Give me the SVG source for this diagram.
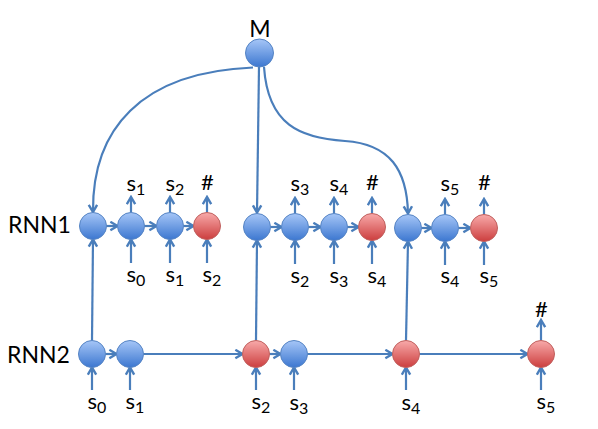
<svg xmlns="http://www.w3.org/2000/svg" width="598" height="429" viewBox="0 0 598 429">
<style>
.c{stroke:#4a7ebb;stroke-width:2.2;fill:none}
.a{marker-end:url(#ah)}
.b{fill:url(#gb);stroke:#5584c4;stroke-width:1}
.r{fill:url(#gr);stroke:#c0605e;stroke-width:1}
text{font-family:Lato,"Liberation Sans",sans-serif;fill:#000}
.t{font-size:23px}
.s{font-size:22px}
.sub{font-size:16px}
</style>
<defs>
<linearGradient id="gb" x1="0" y1="0" x2="0" y2="1">
<stop offset="0" stop-color="#a6c6f7"/>
<stop offset="1" stop-color="#3c77d0"/>
</linearGradient>
<linearGradient id="gr" x1="0" y1="0" x2="0" y2="1">
<stop offset="0" stop-color="#f8aaaa"/>
<stop offset="1" stop-color="#cc3e3e"/>
</linearGradient>
<marker id="ah" viewBox="0 0 10 10" refX="8.5" refY="5" markerWidth="11" markerHeight="11" markerUnits="userSpaceOnUse" orient="auto">
<path d="M2,1.2 L8.5,5 L2,8.8" fill="none" stroke="#4a7ebb" stroke-width="2.2"/>
</marker>
</defs>

<g id="connectors">
<path class="c a" d="M253,67.5 C140,72 92,130 93,212"/>
<path class="c a" d="M259,67 L257,212.5"/>
<path class="c a" d="M264,67 C268,125 300,138 345,141 C390,144 407,170 408,213.5"/>
<path class="c a" d="M106.5,226 L117.5,226"/>
<path class="c a" d="M144.5,226 L156.5,226"/>
<path class="c a" d="M183.5,226 L193.5,226"/>
<path class="c a" d="M270.5,227 L281.5,227"/>
<path class="c a" d="M308.5,227 L320.5,227"/>
<path class="c a" d="M347.5,227 L358.5,227"/>
<path class="c a" d="M421.5,228 L431.5,228"/>
<path class="c a" d="M458.5,228 L470.5,228"/>
<path class="c a" d="M92,340.5 L93,239.5"/>
<path class="c a" d="M256,340.5 L257,240.5"/>
<path class="c a" d="M406,340.5 L408,241.5"/>
<path class="c a" d="M131,263 L131,239.5"/>
<path class="c a" d="M170,263 L170,239.5"/>
<path class="c a" d="M207,263 L207,239.5"/>
<path class="c a" d="M295,264 L295,240.5"/>
<path class="c a" d="M334,264 L334,240.5"/>
<path class="c a" d="M372,264 L372,240.5"/>
<path class="c a" d="M445,265 L445,241.5"/>
<path class="c a" d="M484,265 L484,241.5"/>
<path class="c a" d="M131,212.5 L131,197"/>
<path class="c a" d="M170,212.5 L170,197"/>
<path class="c a" d="M207,212.5 L207,197"/>
<path class="c a" d="M295,213.5 L295,198"/>
<path class="c a" d="M334,213.5 L334,198"/>
<path class="c a" d="M372,213.5 L372,198"/>
<path class="c a" d="M445,214.5 L445,199"/>
<path class="c a" d="M484,214.5 L484,199"/>
<path class="c a" d="M105.5,354 L116.5,354"/>
<path class="c a" d="M143.5,354 L242.5,354"/>
<path class="c a" d="M269.5,354 L280.5,354"/>
<path class="c a" d="M307.5,354 L392.5,354"/>
<path class="c a" d="M419.5,354 L527.5,354"/>
<path class="c a" d="M92,390 L92,367.5"/>
<path class="c a" d="M130,390 L130,367.5"/>
<path class="c a" d="M256,390 L256,367.5"/>
<path class="c a" d="M294,390 L294,367.5"/>
<path class="c a" d="M406,390 L406,367.5"/>
<path class="c a" d="M541,390 L541,367.5"/>
<path class="c a" d="M541,340.5 L541,320"/>
</g>

<g id="M"><circle class="b" cx="259.5" cy="53" r="14"/><text class="t" x="260" y="37" text-anchor="middle">M</text></g>

<g id="labels">
<text class="t" x="8" y="233">RNN1</text>
<text class="t" x="7" y="363">RNN2</text>
</g>

<g id="r1n1"><circle class="b" cx="93" cy="226" r="13.5"/></g>
<g id="r1n2"><circle class="b" cx="131" cy="226" r="13.5"/>
<text class="s" x="126.5" y="191">s<tspan class="sub" dy="4">1</tspan></text>
<text class="s" x="126.5" y="282">s<tspan class="sub" dy="4">0</tspan></text></g>
<g id="r1n3"><circle class="b" cx="170" cy="226" r="13.5"/>
<text class="s" x="165.5" y="191">s<tspan class="sub" dy="4">2</tspan></text>
<text class="s" x="165.5" y="282">s<tspan class="sub" dy="4">1</tspan></text></g>
<g id="r1n4"><circle class="r" cx="207" cy="226" r="13.5"/>
<text class="s" x="207.5" y="190" text-anchor="middle">#</text>
<text class="s" x="202.5" y="282">s<tspan class="sub" dy="4">2</tspan></text></g>

<g id="r1n5"><circle class="b" cx="257" cy="227" r="13.5"/></g>
<g id="r1n6"><circle class="b" cx="295" cy="227" r="13.5"/>
<text class="s" x="290.5" y="191">s<tspan class="sub" dy="4">3</tspan></text>
<text class="s" x="290.5" y="283">s<tspan class="sub" dy="4">2</tspan></text></g>
<g id="r1n7"><circle class="b" cx="334" cy="227" r="13.5"/>
<text class="s" x="329.5" y="191">s<tspan class="sub" dy="4">4</tspan></text>
<text class="s" x="329.5" y="283">s<tspan class="sub" dy="4">3</tspan></text></g>
<g id="r1n8"><circle class="r" cx="372" cy="227" r="13.5"/>
<text class="s" x="372.5" y="190" text-anchor="middle">#</text>
<text class="s" x="367.5" y="283">s<tspan class="sub" dy="4">4</tspan></text></g>

<g id="r1n9"><circle class="b" cx="408" cy="228" r="13.5"/></g>
<g id="r1n10"><circle class="b" cx="445" cy="228" r="13.5"/>
<text class="s" x="440.5" y="191">s<tspan class="sub" dy="4">5</tspan></text>
<text class="s" x="440.5" y="283">s<tspan class="sub" dy="4">4</tspan></text></g>
<g id="r1n11"><circle class="r" cx="484" cy="228" r="13.5"/>
<text class="s" x="484.5" y="190" text-anchor="middle">#</text>
<text class="s" x="479.5" y="283">s<tspan class="sub" dy="4">5</tspan></text></g>

<g id="r2n1"><circle class="b" cx="92" cy="354" r="13.5"/>
<text class="s" x="87.5" y="409">s<tspan class="sub" dy="4">0</tspan></text></g>
<g id="r2n2"><circle class="b" cx="130" cy="354" r="13.5"/>
<text class="s" x="125.5" y="409">s<tspan class="sub" dy="4">1</tspan></text></g>
<g id="r2n3"><circle class="r" cx="256" cy="354" r="13.5"/>
<text class="s" x="251.5" y="409">s<tspan class="sub" dy="4">2</tspan></text></g>
<g id="r2n4"><circle class="b" cx="294" cy="354" r="13.5"/>
<text class="s" x="289.5" y="410">s<tspan class="sub" dy="4">3</tspan></text></g>
<g id="r2n5"><circle class="r" cx="406" cy="354" r="13.5"/>
<text class="s" x="401.5" y="410">s<tspan class="sub" dy="4">4</tspan></text></g>
<g id="r2n6"><circle class="r" cx="541" cy="354" r="13.5"/>
<text class="s" x="541.5" y="317" text-anchor="middle">#</text>
<text class="s" x="536.5" y="409">s<tspan class="sub" dy="4">5</tspan></text></g>
</svg>
